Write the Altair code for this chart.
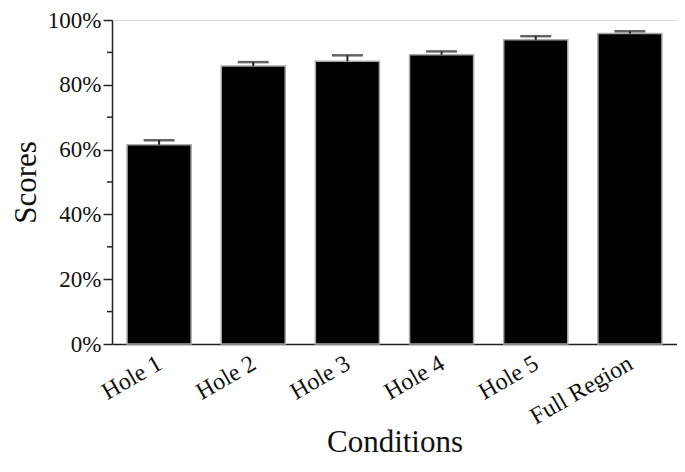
import altair as alt
import pandas as pd

categories = ["Hole 1", "Hole 2", "Hole 3", "Hole 4", "Hole 5", "Full Region"]
scores = [61.5, 85.8, 87.3, 89.3, 93.9, 95.8]
errors = [1.4, 1.2, 1.8, 1.0, 1.1, 0.7]
major_ticks = [0, 20, 40, 60, 80, 100]
minor_ticks = [10, 30, 50, 70, 90]

df = pd.DataFrame({"cond": categories, "score": scores, "err": errors})
df["upper"] = df["score"] + df["err"]
minor_df = pd.DataFrame({"v": minor_ticks})

FONT = "Liberation Serif"
LEFT = 104
PLOT_W = 565
PLOT_H = 324

xscale = alt.Scale(paddingInner=0.32, paddingOuter=0.16)
yscale = alt.Scale(domain=[0, 100], nice=False)

xaxis = alt.Axis(
    labelAngle=-30, labelAlign="right", labelBaseline="top", ticks=False,
    labelPadding=7, labelOffset=-5, labelFontSize=24, labelFont=FONT, labelColor="#111",
    titleFontSize=31, titleFont=FONT, titleFontWeight="normal", titleColor="#111",
    titleY=107, titleBaseline="alphabetic",
    domainColor="#222", domainWidth=1.5,
)
yaxis = alt.Axis(
    values=major_ticks, labelExpr="datum.value + '%'", tickSize=9, tickWidth=1.5,
    tickColor="#222", grid=False, labelPadding=2, labelFontSize=23, labelFont=FONT,
    labelColor="#111", titleFontSize=31, titleFont=FONT, titleFontWeight="normal",
    titleColor="#111", titleX=-(LEFT - 27), titleY=PLOT_H / 2, titleBaseline="alphabetic",
    titleAlign="center", titleAngle=270,
    domainColor="#222", domainWidth=1.5,
)

X = alt.X("cond:N", sort=categories, title="Conditions", scale=xscale, axis=xaxis)

def Y(field):
    return alt.Y(field, title="Scores", scale=yscale, axis=yaxis)

bars = alt.Chart(df).mark_bar(color="black", stroke="#a8a8a8", strokeWidth=1.5).encode(
    x=X, y=Y("score:Q")
)
stem = alt.Chart(df).mark_rule(color="#222", strokeWidth=2).encode(
    x=X, y=Y("score:Q"), y2="upper:Q"
)
cap = alt.Chart(df).mark_tick(color="#222", size=31, thickness=2.5, orient="horizontal").encode(
    x=X, y=Y("upper:Q")
)
minor = alt.Chart(minor_df).mark_rule(color="#222", strokeWidth=1.5).encode(
    y=Y("v:Q"), x=alt.value(-5), x2=alt.value(0),
)

chart = alt.layer(bars, stem, cap, minor).properties(
    width=PLOT_W, height=PLOT_H, autosize="none",
    padding={"left": LEFT, "top": 12, "right": 0, "bottom": 114},
).configure_view(stroke=None).configure(background="white")

chart.save("out.html", embed_options={"renderer": "svg", "actions": False})
